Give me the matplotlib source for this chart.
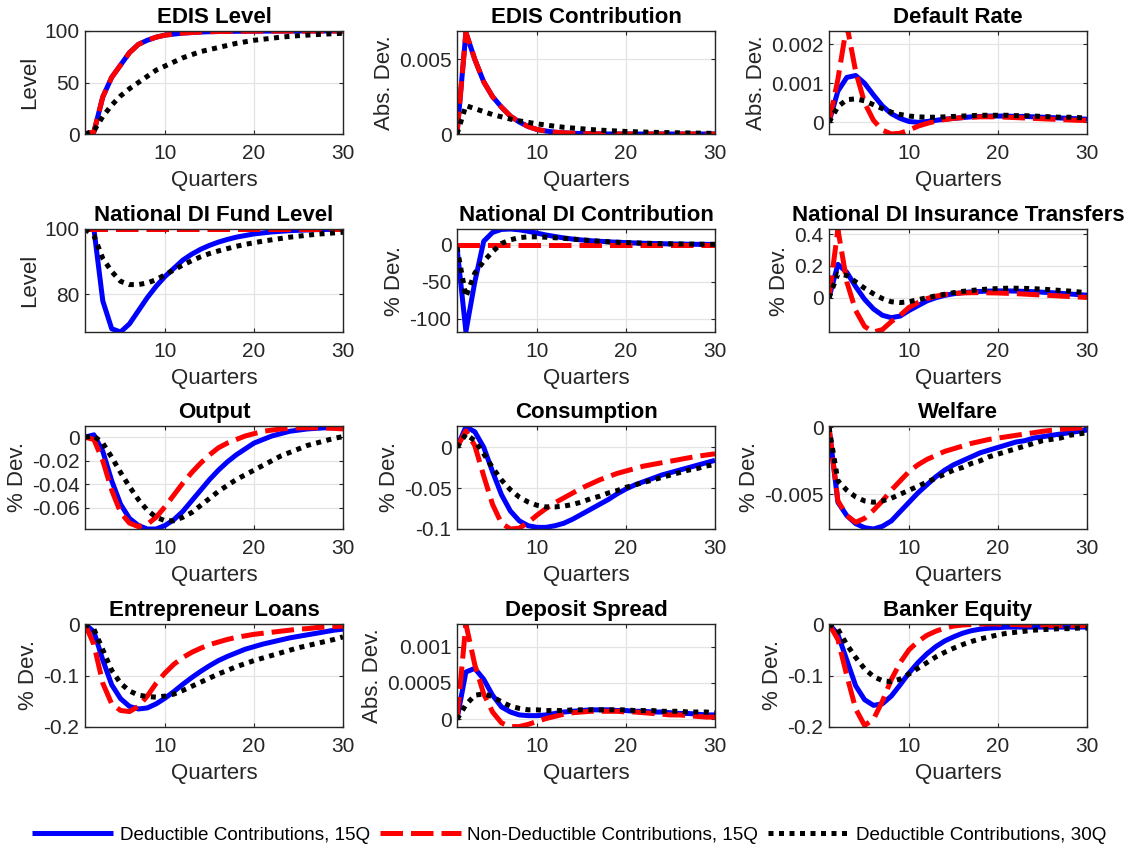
import numpy as np
import matplotlib
matplotlib.use("Agg")
import matplotlib.pyplot as plt

plt.rcParams['font.family'] = ['Liberation Sans', 'DejaVu Sans']

quarters = np.arange(1, 31)

# EDIS Level
edis_lvl_ded15 = [0, 2, 36, 55, 67, 79, 87, 91, 94, 96, 97, 98, 98.5, 99, 99.3, 99.5, 99.6, 99.7, 99.8, 99.85,
                  99.9, 99.9, 99.95, 99.95, 100, 100, 100, 100, 100, 100]
edis_lvl_nd15 = edis_lvl_ded15
edis_lvl_ded30 = [0, 3, 17, 28, 37, 44, 50, 56, 62, 66, 70, 74, 77, 80, 82, 84, 86, 88, 89.5, 91,
                  92, 93, 94, 94.8, 95.5, 96, 96.5, 97, 97.4, 97.8]

# EDIS Contribution
edis_con_ded15 = [0, 0.0068, 0.005, 0.0035, 0.0025, 0.0018, 0.0012, 0.0008, 0.0005, 0.0003, 0.0002, 0.00012,
                  0.00008, 0.00005, 0.00003, 0.00002, 0.00001, 0, 0, 0, 0, 0, 0, 0, 0, 0, 0, 0, 0, 0]
edis_con_nd15 = edis_con_ded15
edis_con_ded30 = [0, 0.0019, 0.0017, 0.0015, 0.0013, 0.00115, 0.001, 0.00088, 0.00078, 0.00068, 0.0006, 0.00052,
                  0.00045, 0.0004, 0.00035, 0.0003, 0.00026, 0.00023, 0.0002, 0.00017, 0.00015, 0.00013, 0.00011,
                  0.0001, 0.00009, 0.00008, 0.00007, 0.00006, 0.00005, 0.00004]

# Default Rate
dr_ded15 = [0, 0.0008, 0.00115, 0.0012, 0.001, 0.0007, 0.00042, 0.00022, 0.0001, 0.00002, 0.0, 0.00002, 0.00005,
            0.00008, 0.0001, 0.00012, 0.00014, 0.00015, 0.00016, 0.00016, 0.00016, 0.00015, 0.00015, 0.00014,
            0.00013, 0.00012, 0.00011, 0.0001, 0.00009, 0.00008]
dr_nd15 = [0, 0.0011, 0.0025, 0.0013, 0.0005, 0.00005, -0.0002, -0.0003, -0.00028, -0.0002, -0.0001, -0.00003,
           0.00003, 0.00007, 0.0001, 0.00012, 0.00013, 0.00014, 0.00014, 0.00014, 0.00013, 0.00012, 0.00011,
           0.0001, 0.00009, 0.00008, 0.00007, 0.00006, 0.00005, 0.00005]
dr_ded30 = [0, 0.0004, 0.00058, 0.0006, 0.00055, 0.00045, 0.00035, 0.00026, 0.0002, 0.00016, 0.00014, 0.00013,
            0.00013, 0.00014, 0.00015, 0.00016, 0.00017, 0.00018, 0.00018, 0.00018, 0.00018, 0.00017, 0.00017,
            0.00016, 0.00015, 0.00014, 0.00013, 0.00013, 0.00012, 0.00011]

# National DI Fund Level
ndi_lvl_ded15 = [100, 100, 78, 69.5, 68.5, 71, 75, 79, 82.5, 85.5, 88, 90.5, 92.3, 93.8, 95, 96, 96.8, 97.5, 98,
                 98.5, 98.8, 99.1, 99.3, 99.5, 99.6, 99.7, 99.8, 99.85, 99.9, 99.95]
ndi_lvl_nd15 = [100] * 30
ndi_lvl_ded30 = [100, 98, 91, 87, 84, 83, 83, 83.5, 84.5, 86, 87.5, 89, 90.3, 91.5, 92.5, 93.3, 94, 94.7, 95.3,
                 95.8, 96.3, 96.7, 97.1, 97.5, 97.8, 98.1, 98.4, 98.6, 98.8, 99]

# National DI Contribution
ndi_con_ded15 = [-3, -117, -50, 5, 17, 21, 21.6, 20.5, 18.5, 16, 13.5, 11.5, 9.5, 8, 6.8, 5.8, 5, 4.3, 3.7, 3.2,
                 2.7, 2.3, 2, 1.7, 1.4, 1.2, 1, 0.9, 0.8, 0.7]
ndi_con_nd15 = [0] * 30
ndi_con_ded30 = [-3, -70, -38, -22, -9, 2, 7, 10, 11, 11, 10.5, 9.8, 9, 8, 7, 6, 5, 4.3, 3.7, 3.2, 2.8, 2.4, 2.1,
                 1.8, 1.6, 1.4, 1.2, 1.1, 1, 0.9]

# National DI Insurance Transfers
ndi_tr_ded15 = [0, 0.21, 0.16, 0.07, -0.01, -0.07, -0.11, -0.125, -0.115, -0.08, -0.05, -0.02, 0.0, 0.015, 0.025,
                0.032, 0.037, 0.04, 0.042, 0.043, 0.043, 0.042, 0.04, 0.038, 0.035, 0.032, 0.028, 0.024, 0.02, 0.016]
ndi_tr_nd15 = [0, 0.43, 0.1, -0.08, -0.18, -0.215, -0.2, -0.15, -0.11, -0.06, -0.03, -0.005, 0.01, 0.02, 0.027,
               0.03, 0.032, 0.032, 0.031, 0.03, 0.028, 0.026, 0.023, 0.02, 0.017, 0.014, 0.011, 0.008, 0.005, 0.002]
ndi_tr_ded30 = [0, 0.15, 0.14, 0.1, 0.06, 0.025, -0.005, -0.025, -0.03, -0.025, -0.012, 0.0, 0.012, 0.022, 0.032,
                0.04, 0.046, 0.051, 0.055, 0.058, 0.06, 0.06, 0.059, 0.057, 0.054, 0.05, 0.046, 0.042, 0.037, 0.032]

# Output
out_ded15 = [0, 0.002, -0.012, -0.037, -0.057, -0.069, -0.075, -0.078, -0.078, -0.075, -0.07, -0.063, -0.054,
             -0.045, -0.036, -0.028, -0.021, -0.015, -0.01, -0.005, -0.002, 0.001, 0.003, 0.005, 0.006, 0.007,
             0.0075, 0.008, 0.008, 0.008]
out_nd15 = [0, -0.002, -0.02, -0.045, -0.064, -0.073, -0.076, -0.074, -0.068, -0.059, -0.049, -0.039, -0.03,
            -0.022, -0.015, -0.009, -0.005, -0.002, 0.001, 0.003, 0.005, 0.006, 0.007, 0.0075, 0.008, 0.008, 0.008,
            0.0078, 0.0075, 0.007]
out_ded30 = [0, 0.001, -0.005, -0.017, -0.03, -0.042, -0.053, -0.062, -0.068, -0.071, -0.071, -0.068, -0.064,
             -0.058, -0.052, -0.046, -0.041, -0.036, -0.032, -0.028, -0.024, -0.02, -0.016, -0.013, -0.01, -0.007,
             -0.005, -0.003, -0.001, 0.0005]

# Consumption
cons_ded15 = [0, 0.025, 0.019, 0.0, -0.03, -0.058, -0.078, -0.09, -0.096, -0.098, -0.098, -0.096, -0.093, -0.088,
              -0.082, -0.076, -0.07, -0.064, -0.057, -0.051, -0.046, -0.042, -0.038, -0.034, -0.031, -0.028, -0.025,
              -0.022, -0.019, -0.016]
cons_nd15 = [0, 0.02, 0.002, -0.035, -0.07, -0.093, -0.1, -0.099, -0.092, -0.083, -0.075, -0.068, -0.062, -0.056,
             -0.05, -0.045, -0.04, -0.036, -0.032, -0.029, -0.026, -0.023, -0.021, -0.019, -0.017, -0.015, -0.013,
             -0.011, -0.0095, -0.008]
cons_ded30 = [0, 0.016, 0.008, -0.008, -0.025, -0.04, -0.052, -0.061, -0.067, -0.071, -0.073, -0.073, -0.072,
              -0.07, -0.067, -0.063, -0.06, -0.056, -0.053, -0.049, -0.046, -0.043, -0.04, -0.037, -0.034, -0.031,
              -0.028, -0.026, -0.023, -0.021]

# Welfare
wel_ded15 = [0, -0.0056, -0.0066, -0.0072, -0.0075, -0.0076, -0.0074, -0.007, -0.0063, -0.0056, -0.0049, -0.0043,
             -0.0037, -0.0032, -0.0028, -0.0025, -0.0022, -0.0019, -0.0017, -0.0015, -0.0013, -0.0011, -0.001,
             -0.0008, -0.0007, -0.0006, -0.0005, -0.0004, -0.0003, -0.0002]
wel_nd15 = [0, -0.0055, -0.0066, -0.0071, -0.0068, -0.0062, -0.0055, -0.0047, -0.004, -0.0033, -0.0028, -0.0024,
            -0.0021, -0.0018, -0.0016, -0.0014, -0.0012, -0.00105, -0.0009, -0.0008, -0.0007, -0.0006, -0.0005,
            -0.0004, -0.0003, -0.00022, -0.00015, -0.0001, -0.00005, 0.0]
wel_ded30 = [0, -0.004, -0.0047, -0.0052, -0.0055, -0.0056, -0.0055, -0.0053, -0.005, -0.0047, -0.0044, -0.0041,
             -0.0038, -0.0035, -0.0032, -0.003, -0.0027, -0.0025, -0.0022, -0.002, -0.0018, -0.0016, -0.0014,
             -0.0012, -0.001, -0.0009, -0.0008, -0.0006, -0.0005, -0.0004]

# Entrepreneur Loans
loan_ded15 = [0, -0.015, -0.07, -0.118, -0.145, -0.16, -0.165, -0.163, -0.155, -0.144, -0.131, -0.117, -0.104,
              -0.092, -0.081, -0.071, -0.063, -0.056, -0.049, -0.044, -0.039, -0.035, -0.031, -0.027, -0.024, -0.021,
              -0.018, -0.015, -0.012, -0.01]
loan_nd15 = [0, -0.04, -0.115, -0.155, -0.168, -0.17, -0.16, -0.14, -0.115, -0.095, -0.078, -0.065, -0.055, -0.047,
             -0.04, -0.035, -0.03, -0.026, -0.023, -0.02, -0.018, -0.016, -0.014, -0.012, -0.01, -0.009, -0.007,
             -0.006, -0.005, -0.004]
loan_ded30 = [0, -0.01, -0.05, -0.09, -0.115, -0.13, -0.138, -0.141, -0.142, -0.14, -0.136, -0.129, -0.121,
              -0.113, -0.105, -0.097, -0.09, -0.083, -0.077, -0.071, -0.066, -0.061, -0.056, -0.051, -0.046, -0.042,
              -0.038, -0.034, -0.03, -0.025]

# Deposit Spread
dep_ded15 = [0, 0.00065, 0.0007, 0.00055, 0.00033, 0.00017, 0.0001, 0.00006, 0.00005, 0.00005, 0.00006, 0.00008,
             0.0001, 0.00011, 0.00012, 0.00013, 0.00013, 0.00013, 0.00012, 0.00012, 0.00011, 0.00011, 0.0001,
             0.0001, 0.00009, 0.00008, 0.00008, 0.00007, 0.00006, 0.00006]
dep_nd15 = [0, 0.00131, 0.00075, 0.00035, 0.0001, -0.00005, -0.0001, -0.0001, -0.00007, -0.00003, 0.00001,
            0.00004, 0.00007, 0.00009, 0.0001, 0.00011, 0.00011, 0.00011, 0.00011, 0.0001, 0.0001, 0.00009, 0.00008,
            0.00007, 0.00006, 0.00006, 0.00005, 0.00004, 0.00003, 0.00003]
dep_ded30 = [0, 0.0002, 0.00033, 0.00035, 0.00031, 0.00024, 0.00018, 0.00015, 0.00013, 0.00013, 0.00012, 0.00012,
             0.00012, 0.00013, 0.00013, 0.00013, 0.00013, 0.00013, 0.00013, 0.00013, 0.00012, 0.00012, 0.00012,
             0.00011, 0.00011, 0.00011, 0.0001, 0.0001, 0.0001, 0.00009]

# Banker Equity
beq_ded15 = [0, -0.02, -0.07, -0.12, -0.147, -0.158, -0.155, -0.14, -0.118, -0.095, -0.075, -0.058, -0.044, -0.033,
             -0.025, -0.018, -0.013, -0.01, -0.008, -0.007, -0.006, -0.006, -0.006, -0.006, -0.006, -0.006, -0.006,
             -0.006, -0.006, -0.006]
beq_nd15 = [0, -0.03, -0.1, -0.165, -0.197, -0.185, -0.15, -0.108, -0.075, -0.05, -0.034, -0.022, -0.014, -0.008,
            -0.004, -0.002, -0.001, 0.0, 0.0, 0.0, -0.001, -0.001, -0.002, -0.002, -0.002, -0.003, -0.003, -0.003,
            -0.003, -0.003]
beq_ded30 = [0, -0.01, -0.04, -0.065, -0.087, -0.102, -0.11, -0.112, -0.107, -0.097, -0.086, -0.075, -0.064,
             -0.055, -0.047, -0.04, -0.034, -0.029, -0.025, -0.021, -0.018, -0.016, -0.014, -0.012, -0.011, -0.01,
             -0.009, -0.009, -0.008, -0.008]

titles = ['EDIS Level', 'EDIS Contribution', 'Default Rate',
          'National DI Fund Level', 'National DI Contribution', 'National DI Insurance Transfers',
          'Output', 'Consumption', 'Welfare',
          'Entrepreneur Loans', 'Deposit Spread', 'Banker Equity']
ylabels = ['Level', 'Abs. Dev.', 'Abs. Dev.',
           'Level', '% Dev.', '% Dev.',
           '% Dev.', '% Dev.', '% Dev.',
           '% Dev.', 'Abs. Dev.', '% Dev.']
series = [(edis_lvl_ded15, edis_lvl_nd15, edis_lvl_ded30),
          (edis_con_ded15, edis_con_nd15, edis_con_ded30),
          (dr_ded15, dr_nd15, dr_ded30),
          (ndi_lvl_ded15, ndi_lvl_nd15, ndi_lvl_ded30),
          (ndi_con_ded15, ndi_con_nd15, ndi_con_ded30),
          (ndi_tr_ded15, ndi_tr_nd15, ndi_tr_ded30),
          (out_ded15, out_nd15, out_ded30),
          (cons_ded15, cons_nd15, cons_ded30),
          (wel_ded15, wel_nd15, wel_ded30),
          (loan_ded15, loan_nd15, loan_ded30),
          (dep_ded15, dep_nd15, dep_ded30),
          (beq_ded15, beq_nd15, beq_ded30)]
ylims = [(0, 100), (0, 0.0069), (-0.0003, 0.00234),
         (68.5, 100), (-117.6, 21.6), (-0.215, 0.432),
         (-0.078, 0.0095), (-0.1, 0.026), (-0.0076, 0.0001),
         (-0.2, 0.0), (-0.000106, 0.00131), (-0.2, 0.0)]
yticks = [([0, 50, 100], ['0', '50', '100']),
          ([0, 0.005], ['0', '0.005']),
          ([0, 0.001, 0.002], ['0', '0.001', '0.002']),
          ([80, 100], ['80', '100']),
          ([-100, -50, 0], ['-100', '-50', '0']),
          ([0, 0.2, 0.4], ['0', '0.2', '0.4']),
          ([-0.06, -0.04, -0.02, 0], ['-0.06', '-0.04', '-0.02', '0']),
          ([-0.1, -0.05, 0], ['-0.1', '-0.05', '0']),
          ([-0.005, 0], ['-0.005', '0']),
          ([-0.2, -0.1, 0], ['-0.2', '-0.1', '0']),
          ([0, 0.0005, 0.001], ['0', '0.0005', '0.001']),
          ([-0.2, -0.1, 0], ['-0.2', '-0.1', '0'])]
labels = ['Deductible Contributions, 15Q', 'Non-Deductible Contributions, 15Q', 'Deductible Contributions, 30Q']

W, H = 1138, 851
fig = plt.figure(figsize=(W / 100, H / 100), dpi=100)

col_left = [85, 457, 829]
row_top = [31, 229, 426, 624]
aw, ah = 258, 103
axcol = '#262626'

handles = None
for i in range(12):
    r, c = divmod(i, 3)
    ax = fig.add_axes([col_left[c] / W, (H - row_top[r] - ah) / H, aw / W, ah / H])
    d15, nd15, d30 = series[i]
    h1, = ax.plot(quarters, d15, color='#0000ff', lw=3.6, solid_capstyle='butt')
    h2, = ax.plot(quarters, nd15, color='#ff0000', lw=3.6, dashes=(4.5, 1.6))
    h3, = ax.plot(quarters, d30, color='black', lw=3.6, dashes=(1, 1.1))
    handles = [h1, h2, h3]
    ax.set_xlim(1, 30)
    ax.set_ylim(*ylims[i])
    ax.set_xticks([10, 20, 30])
    ax.set_yticks(yticks[i][0])
    ax.set_yticklabels(yticks[i][1])
    ax.grid(True, color='#e3e3e3', lw=0.9)
    ax.set_axisbelow(True)
    ax.tick_params(direction='in', top=True, right=True, labelsize=15, colors=axcol,
                   length=3, width=0.8)
    ax.tick_params(axis='x', pad=7)
    ax.tick_params(axis='y', pad=4)
    for s in ax.spines.values():
        s.set_color(axcol)
        s.set_linewidth(1.0)
    ax.set_title(titles[i], fontsize=16, fontweight='bold', pad=6)
    ax.set_xlabel('Quarters', fontsize=16, color=axcol, labelpad=5)
    ax.set_ylabel(ylabels[i], fontsize=16, color=axcol, labelpad=3)

fig.legend(handles, labels, loc='center', bbox_to_anchor=(0.5, 1 - 835 / H), ncol=3, frameon=False,
           fontsize=13.6, handlelength=4.3, handletextpad=0.35, columnspacing=0.5)

fig.savefig('out.png', dpi=100)
